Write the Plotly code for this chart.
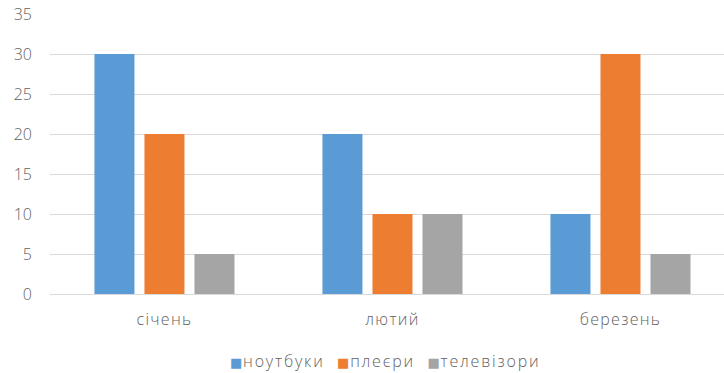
import plotly.graph_objects as go

categories = ["січень", "лютий", "березень"]
notebooks = [30, 20, 10]
players = [20, 10, 30]
tvs = [5, 10, 5]
series_names = ["ноутбуки", "плеєри", "телевізори"]
colors = ["#5B9BD5", "#ED7D31", "#A5A5A5"]
y_ticks = [0, 5, 10, 15, 20, 25, 30, 35]

fig = go.Figure()
for name, vals, col in zip(series_names, [notebooks, players, tvs], colors):
    fig.add_trace(go.Bar(x=categories, y=vals, name=name, marker=dict(color=col, line=dict(width=0))))

font = dict(family="Open Sans", size=16, color="#5f5f5f", weight=300)

cat_text = [f'<span style="letter-spacing:1.3px">{c}</span>' for c in categories]

legend_parts = []
for name, col in zip(series_names, colors):
    legend_parts.append(
        f'<span style="font-family:DejaVu Sans;font-weight:400;font-size:13px;fill:{col}">■</span>'
        f'<span style="font-size:3px"> </span>'
        f'<span style="letter-spacing:1.8px">{name}</span>'
    )
legend_text = '<span style="font-size:12px">\u00a0\u00a0\u00a0\u00a0</span>'.join(legend_parts)

fig.update_layout(
    width=724, height=373,
    margin=dict(l=50, r=0, t=14, b=79),
    paper_bgcolor="white", plot_bgcolor="white",
    barmode="group", bargap=0.342, bargroupgap=0.2,
    font=font,
    showlegend=False,
    xaxis=dict(range=[-0.502, 2.454], showgrid=False, showline=False, ticks="",
               tickmode="array", tickvals=categories, ticktext=cat_text,
               tickfont=font, ticklabelstandoff=14),
    yaxis=dict(range=[0, 35], tickvals=y_ticks, showgrid=True, gridcolor="#D9D9D9",
               gridwidth=1, zeroline=True, zerolinecolor="#D9D9D9", zerolinewidth=1,
               showline=False, ticks="", tickfont=font, ticklabelstandoff=17),
    annotations=[dict(text=legend_text, xref="paper", yref="paper", x=0.497, y=-0.239,
                      xanchor="center", yanchor="middle", showarrow=False, font=font)],
)
fig.write_html("out.html")
